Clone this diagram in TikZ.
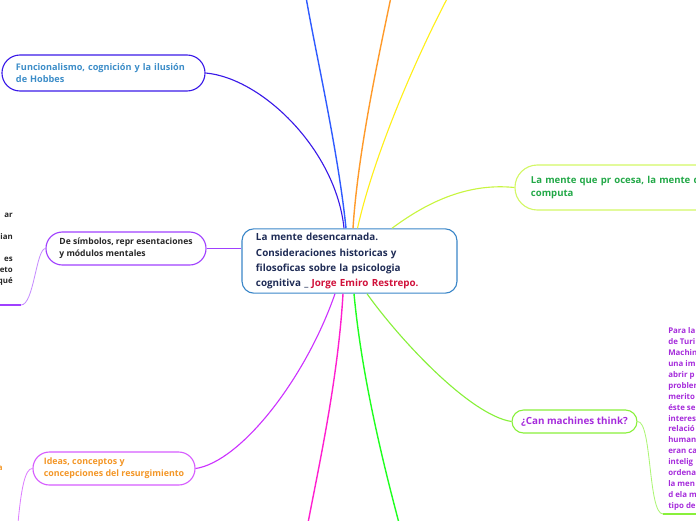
\documentclass[tikz,border=0pt]{standalone}
\usepackage{fontspec}
\setmainfont{Open Sans}
\usetikzlibrary{calc}
\definecolor{mmnavy}{HTML}{1E2B55}
\definecolor{mmred}{HTML}{D0103A}
\definecolor{mmframe}{HTML}{3A86C8}
\definecolor{mmindigo}{HTML}{3A1AE8}
\definecolor{mmsky}{HTML}{3C8DC8}
\definecolor{mmblue}{HTML}{2F5BFF}
\definecolor{mmorange}{HTML}{FF9A2A}
\definecolor{mmyellow}{HTML}{FFEF1A}
\definecolor{mmlime}{HTML}{C8F540}
\definecolor{mmleaf}{HTML}{22A847}
\definecolor{mmpurple}{HTML}{A040FF}
\definecolor{mmviolet}{HTML}{CC33FF}
\definecolor{mmlilac}{HTML}{DD80FF}
\definecolor{mmmagenta}{HTML}{FF1FCF}
\definecolor{mmgreen}{HTML}{1FFF1F}
\definecolor{mmspring}{HTML}{88F03A}
\definecolor{mmplum}{HTML}{A52BDB}
\definecolor{mmamber}{HTML}{F39626}

\begin{document}
\begin{tikzpicture}[x=0.025cm,y=-0.025cm,
    branch/.style={draw, line width=0.8pt, align=left, inner ysep=0pt,
      font=\fontsize{6.5}{8.6}\selectfont\bfseries},
    link/.style={line width=0.8pt},
    leaf/.style={align=left, inner sep=0pt,
      font=\fontsize{5.6}{7.8}\selectfont\bfseries}]
  \useasboundingbox (0,0) rectangle (696,520);

  \node[draw=mmframe, line width=0.8pt, rounded corners=0.3cm, align=left,
        text width=4.675cm, inner xsep=0.35cm, minimum height=1.6cm,
        text=mmnavy, font=\fontsize{7}{10.7}\selectfont\bfseries]
    (mente) at (349.5,261)
    {La mente desencarnada.\\Consideraciones historicas y\\filosoficas sobre la psicologia\\cognitiva \_ {\color{mmred}Jorge Emiro Restrepo.}};

  \node[branch, draw=mmindigo, text=mmsky, rounded corners=0.45cm,
        text width=4.375cm, inner xsep=0.35cm, minimum height=0.9cm]
    (hobbes) at (103.5,73) {Funcionalismo, cognición y la ilusión\\de Hobbes};
  \node[branch, draw=mmpurple, text=black!85, rounded corners=0.41cm,
        minimum width=4cm, minimum height=0.825cm,
        font=\fontsize{6.1}{8.4}\selectfont\bfseries]
    (simbolos) at (126,248.5) {De símbolos, repr esentaciones\\y módulos mentales};
  \node[branch, draw=mmlime!80, text=mmleaf, rounded corners=0.56cm,
        text width=5.6cm, inner xsep=0.4cm, minimum height=1.125cm,
        font=\fontsize{6.8}{9.4}\selectfont\bfseries]
    (procesa) at (643,187.5) {La mente que pr ocesa, la mente que\\computa};
  \node[branch, draw=mmspring, text=mmplum, rounded corners=0.29cm,
        align=center, minimum width=3.125cm, minimum height=0.575cm,
        font=\fontsize{7}{9}\selectfont\bfseries]
    (machines) at (574.5,421.5) {¿Can machines think?};
  \node[branch, draw=mmviolet!80, text=mmamber, rounded corners=0.41cm,
        minimum width=4.05cm, minimum height=0.825cm,
        font=\fontsize{6.3}{8.8}\selectfont\bfseries]
    (ideas) at (114,468.5) {Ideas, conceptos y\\concepciones del resurgimiento};

  \node[leaf, text=black!85, align=right, anchor=north east] (cortado) at (13,213)
    {ar\\\mbox{}\\ian\\\mbox{}\\es\\reto\\qué};
  \node[leaf, text=mmamber, anchor=east] (resto) at (3,468) {a};
  \node[leaf, text=mmplum, anchor=north west] (turing) at (668,327)
    {Para la\\de Turi\\Machin\\una im\\abrir p\\problem\\merito\\éste se\\interes\\relació\\human\\eran ca\\intelig\\ordena\\la men\\d ela m\\tipo de};

  \coordinate (azultop) at (306,-3);
  \coordinate (naranjatop) at (391,-3);
  \coordinate (amarillotop) at (448,-3);
  \coordinate (rosabottom) at (308,523);
  \coordinate (verdebottom) at (399,523);
  \coordinate (simbolosfin) at (21,305);
  \coordinate (simbolosborde) at (-3,305);
  \coordinate (ideasfin) at (18,523);
  \coordinate (turingfin) at (663,514);
  \coordinate (turingborde) at (699,514);

  \draw[link, mmindigo] (hobbes.east) .. controls (262,78) and (336,150) .. ($(mente.north)+(-5.5,0)$);
  \draw[link, mmblue, line width=1pt] ($(mente.north)+(-3.5,0)$) .. controls (338,150) and (315,50) .. (azultop);
  \draw[link, mmorange, line width=1pt] ($(mente.north)+(3.5,0)$) .. controls (358,150) and (380,50) .. (naranjatop);
  \draw[link, mmyellow] ($(mente.north)+(8,0)$) .. controls (375,150) and (420,50) .. (amarillotop);
  \draw[link, mmlime] ($(mente.north)+(42.5,0)$) .. controls (430,200) and (470,183) .. (procesa.west);
  \draw[link, mmpurple] (simbolos.east) -- (mente.west |- simbolos.east);
  \draw[link, mmpurple!60, line width=0.6pt] (simbolos.west) .. controls (36,249) and (34,305) .. (simbolosfin);
  \draw[mmpurple, line width=1.1pt] (simbolosfin) -- (simbolosborde);
  \draw[link, mmviolet] ($(mente.south)+(-14.5,0)$) .. controls (305,380) and (240,462) .. (ideas.east);
  \draw[link, mmlilac, line width=0.6pt] (ideas.west) .. controls (25,468) and (21,490) .. (ideasfin);
  \draw[link, mmmagenta, line width=1pt] ($(mente.south)+(-6.5,0)$) .. controls (338,380) and (318,470) .. (rosabottom);
  \draw[link, mmgreen, line width=1pt] ($(mente.south)+(4.5,0)$) .. controls (362,380) and (385,470) .. (verdebottom);
  \draw[link, mmspring] ($(mente.south)+(17.5,0)$) .. controls (400,340) and (470,415) .. (machines.west);
  \draw[link, mmspring!70, line width=0.6pt] (machines.east) .. controls (652,421) and (648,514) .. (turingfin);
  \draw[mmspring, line width=1.1pt] (turingfin) -- (turingborde);
\end{tikzpicture}
\end{document}
